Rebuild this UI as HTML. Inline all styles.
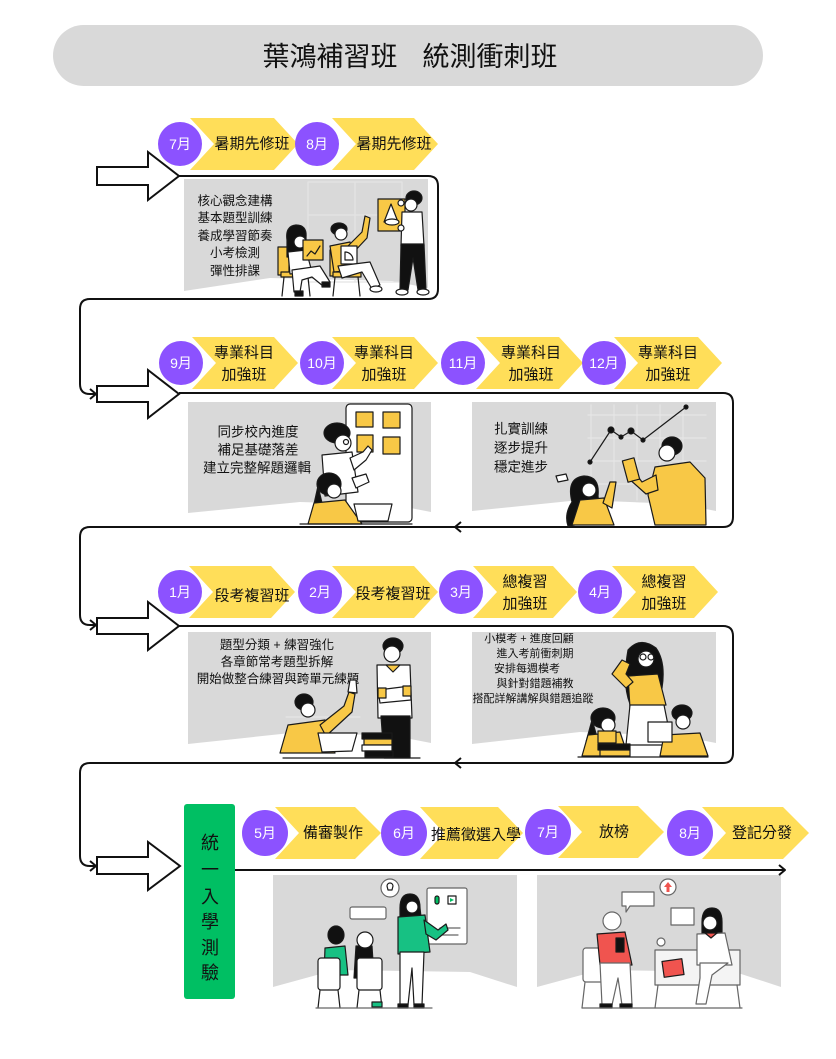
<!DOCTYPE html>
<html><head><meta charset="utf-8">
<style>
html,body{margin:0;padding:0;background:#fff;}
svg{display:block;}
text{font-family:"Liberation Sans","Noto Sans CJK TC",sans-serif;}
</style></head><body>
<svg width="836" height="1059" viewBox="0 0 836 1059" xmlns="http://www.w3.org/2000/svg">
<rect width="836" height="1059" fill="#fff"/>

<!-- header -->
<rect x="53" y="25" width="710" height="61" rx="30.5" fill="#d9d9d9"/>
<text x="330" y="57" font-size="27" text-anchor="middle" dominant-baseline="central" fill="#111">葉鴻補習班</text>
<text x="490" y="57" font-size="27" text-anchor="middle" dominant-baseline="central" fill="#111">統測衝刺班</text>

<!-- gray panels -->
<g fill="#d9d9d9">
<polygon points="184,179 428,179 428,288 392,281 270,278 184,291"/>
<polygon points="188,402 431,402 431,512 395,505 300,502 188,513"/>
<polygon points="472,402 716,402 716,511 680,504 580,500 472,511"/>
<polygon points="188,632 431,632 431,743 395,736 300,732 188,744"/>
<polygon points="472,632 716,632 716,743 680,736 580,732 472,744"/>
<polygon points="273,875 517,875 517,987 470,972 335,970 273,987"/>
<polygon points="537,875 781,875 781,987 735,972 600,970 537,987"/>
</g>

<!-- connectors -->
<g fill="none" stroke="#111" stroke-width="2" stroke-linejoin="round">
<path d="M179,176 H428 Q438,176 438,186 V289 Q438,299 428,299 H90 Q80,299 80,309 V384 Q80,394 90,394 H96"/>
<path d="M90,389 L96,394 L90,399"/>
<path d="M179,393 H723 Q733,393 733,403 V517 Q733,527 723,527 H90 Q80,527 80,537 V615 Q80,625 90,625 H96"/>
<path d="M90,620 L96,625 L90,630"/>
<path d="M461,522 L455,527 L461,532"/>
<path d="M179,626 H723 Q733,626 733,636 V753 Q733,763 723,763 H90 Q80,763 80,773 V856 Q80,866 90,866 H96"/>
<path d="M90,861 L96,866 L90,871"/>
<path d="M461,758 L455,763 L461,768"/>
<path d="M235,870 H785"/>
<path d="M779,865 L785,870 L779,875"/>
</g>

<!-- big block arrows -->
<g fill="#fff" stroke="#111" stroke-width="2" stroke-linejoin="miter">
<polygon points="97,167 148,167 148,152 179,176 148,200 148,185 97,185"/>
<polygon points="97,386 148,386 148,370 179,394 148,418 148,402 97,402"/>
<polygon points="97,618 148,618 148,602 179,626 148,650 148,634 97,634"/>
<polygon points="97,857 148,857 148,842 180,866 148,890 148,874 97,874"/>
</g>

<!-- chevrons -->
<g fill="#ffde59">
<polygon points="190,118 274,118 298,144 274,170 190,170 214,144"/>
<polygon points="332,118 414,118 438,144 414,170 332,170 356,144"/>

<polygon points="192,337 274,337 298,363 274,389 192,389 216,363"/>
<polygon points="332,337 414,337 438,363 414,389 332,389 356,363"/>
<polygon points="476,337 559,337 583,363 559,389 476,389 500,363"/>
<polygon points="614,337 698,337 722,363 698,389 614,389 638,363"/>

<polygon points="189,566 271,566 295,592 271,618 189,618 213,592"/>
<polygon points="332,566 414,566 438,592 414,618 332,618 356,592"/>
<polygon points="473,566 553,566 577,592 553,618 473,618 497,592"/>
<polygon points="612,566 694,566 718,592 694,618 612,618 636,592"/>

<polygon points="275,807 355,807 381,833 355,859 275,859 299,833"/>
<polygon points="420,807 498,807 523,833 498,859 420,859 444,833"/>
<polygon points="558,806 638,806 664,832 638,858 558,858 582,832"/>
<polygon points="702,807 783,807 809,833 783,859 702,859 726,833"/>
</g>

<!-- circles -->
<g fill="#8c52ff">
<circle cx="180" cy="144" r="22"/><circle cx="317" cy="144" r="22"/>
<circle cx="181" cy="363" r="22"/><circle cx="322" cy="363" r="22"/><circle cx="463" cy="363" r="22"/><circle cx="604" cy="363" r="22"/>
<circle cx="180" cy="592" r="22"/><circle cx="320" cy="592" r="22"/><circle cx="461" cy="592" r="22"/><circle cx="600" cy="592" r="22"/>
<circle cx="265" cy="833" r="23"/><circle cx="404" cy="833" r="23"/><circle cx="548" cy="832" r="23"/><circle cx="690" cy="833" r="23"/>
</g>
<g fill="#fff" font-size="14" text-anchor="middle" dominant-baseline="central">
<text x="180" y="144">7月</text><text x="317" y="144">8月</text>
<text x="181" y="363">9月</text><text x="322" y="363">10月</text><text x="463" y="363">11月</text><text x="604" y="363">12月</text>
<text x="180" y="592">1月</text><text x="320" y="592">2月</text><text x="461" y="592">3月</text><text x="600" y="592">4月</text>
<text x="265" y="833">5月</text><text x="404" y="833">6月</text><text x="548" y="832">7月</text><text x="690" y="833">8月</text>
</g>

<!-- chevron labels -->
<g fill="#111" font-size="15" text-anchor="middle" dominant-baseline="central">
<text x="252" y="144">暑期先修班</text><text x="394" y="144">暑期先修班</text>
<text x="244" y="353">專業科目</text><text x="244" y="375">加強班</text>
<text x="384" y="353">專業科目</text><text x="384" y="375">加強班</text>
<text x="531" y="353">專業科目</text><text x="531" y="375">加強班</text>
<text x="668" y="353">專業科目</text><text x="668" y="375">加強班</text>
<text x="252" y="596">段考複習班</text><text x="393" y="594">段考複習班</text>
<text x="525" y="582">總複習</text><text x="525" y="604">加強班</text>
<text x="664" y="582">總複習</text><text x="664" y="604">加強班</text>
<text x="333" y="833">備審製作</text>
<text x="476" y="835">推薦徵選入學</text>
<text x="614" y="832">放榜</text>
<text x="762" y="833">登記分發</text>
</g>

<!-- panel texts -->
<g fill="#111" text-anchor="middle" dominant-baseline="central">
<g font-size="12.5">
<text x="235" y="201">核心觀念建構</text>
<text x="235" y="218">基本題型訓練</text>
<text x="235" y="236">養成學習節奏</text>
<text x="235" y="253">小考檢測</text>
<text x="235" y="271">彈性排課</text>
</g>
<g font-size="13.5">
<text x="258" y="432">同步校內進度</text>
<text x="258" y="450">補足基礎落差</text>
<text x="257" y="468">建立完整解題邏輯</text>
<text x="521" y="429">扎實訓練</text>
<text x="521" y="448">逐步提升</text>
<text x="521" y="467">穩定進步</text>
</g>
<g font-size="12.5">
<text x="277" y="645">題型分類 + 練習強化</text>
<text x="277" y="662">各章節常考題型拆解</text>
<text x="278" y="679">開始做整合練習與跨單元練題</text>
</g>
<g font-size="11">
<text x="529" y="639">小模考 + 進度回顧</text>
<text x="535" y="654">進入考前衝刺期</text>
<text x="527" y="669">安排每週模考</text>
<text x="535" y="684">與針對錯題補教</text>
<text x="533" y="699">搭配詳解講解與錯題追蹤</text>
</g>
</g>

<!-- green box -->
<rect x="184" y="804" width="51" height="195" rx="3" fill="#00bf63"/>
<g fill="#111" font-size="18" text-anchor="middle" dominant-baseline="central">
<text x="210" y="843">統</text><text x="210" y="870">一</text><text x="210" y="897">入</text>
<text x="210" y="922">學</text><text x="210" y="948">測</text><text x="210" y="973">驗</text>
</g>

<!-- ===== Illustrations ===== -->
<g stroke="#1a1a1a" stroke-width="1.2" stroke-linejoin="round" stroke-linecap="round">

<!-- Row 1 -->
<rect x="308" y="182" width="94" height="100" fill="none" stroke="#e4e4e4"/>
<line x1="355" y1="182" x2="355" y2="282" stroke="#e4e4e4"/>
<line x1="308" y1="215" x2="402" y2="215" stroke="#e4e4e4"/>
<!-- woman chair -->
<rect x="278" y="247" width="11" height="28" fill="#f8c846"/>
<rect x="281" y="272" width="30" height="5" fill="#f8c846"/>
<line x1="284" y1="277" x2="282" y2="296"/><line x1="308" y1="277" x2="310" y2="296"/>
<!-- woman -->
<path d="M287,240 q-2,-14 9,-15 q11,0 10,12 l0,20 l-19,0 z" fill="#111"/>
<circle cx="300" cy="242" r="6" fill="#fff"/>
<path d="M288,252 L306,250 L312,272 L290,274 Z" fill="#fff"/>
<path d="M292,270 L320,266 L330,282 L323,286 L312,277 L302,280 L300,292 L294,292 Z" fill="#fff"/>
<rect x="322" y="282" width="8" height="5" fill="#111"/><rect x="295" y="291" width="8" height="5" fill="#111"/>
<rect x="303" y="240" width="20" height="20" fill="#f8c846"/>
<polyline points="307,256 311,251 315,254 320,246" fill="none"/>
<!-- man seated chair -->
<rect x="330" y="250" width="11" height="26" fill="#f8c846"/>
<rect x="333" y="272" width="28" height="5" fill="#f8c846"/>
<line x1="335" y1="277" x2="333" y2="296"/><line x1="358" y1="277" x2="360" y2="296"/>
<!-- man seated -->
<ellipse cx="339" cy="229" rx="8" ry="6" fill="#111"/>
<circle cx="341" cy="234" r="6" fill="#fff"/>
<path d="M330,246 L350,242 L356,270 L334,272 Z" fill="#f8c846"/>
<path d="M348,246 L362,232 L365,216 L370,218 L367,238 L352,254 Z" fill="#f8c846"/>
<rect x="341" y="246" width="16" height="18" fill="#fff"/>
<path d="M345,260 L353,260 A8,8 0 0 0 345,252 Z" fill="none"/>
<path d="M338,266 L370,262 L380,285 L372,289 L362,272 L342,278 Z" fill="#fff"/>
<ellipse cx="376" cy="289" rx="6" ry="3" fill="#fff"/>
<!-- standing man -->
<rect x="378" y="199" width="27" height="32" fill="#f8c846"/>
<path d="M391,204 L384,222 L398,222 Z" fill="#fff"/>
<ellipse cx="392" cy="222" rx="7" ry="3" fill="#fff"/>
<ellipse cx="414" cy="198" rx="8" ry="7" fill="#111"/>
<circle cx="411" cy="205" r="6" fill="#fff"/>
<path d="M402,212 L422,212 L424,246 L401,246 Z" fill="#fff"/>
<path d="M401,244 L424,244 L426,290 L418,290 L413,258 L408,290 L400,290 Z" fill="#111"/>
<ellipse cx="402" cy="292" rx="6" ry="3" fill="#fff"/><ellipse cx="423" cy="292" rx="6" ry="3" fill="#fff"/>
<circle cx="401" cy="203" r="3" fill="#fff"/><circle cx="401" cy="228" r="3" fill="#fff"/>

<!-- Row 2 left -->
<rect x="346" y="404" width="66" height="118" rx="4" fill="#fff"/>
<rect x="356" y="412" width="17" height="15" fill="#f8c846"/>
<rect x="383" y="412" width="17" height="16" fill="#f8c846"/>
<rect x="357" y="435" width="16" height="17" fill="#f8c846"/>
<rect x="383" y="437" width="17" height="17" fill="#f8c846"/>
<ellipse cx="337" cy="433" rx="13" ry="10" fill="#111"/>
<circle cx="343" cy="443" r="8" fill="#fff"/>
<circle cx="346" cy="442" r="2.5" fill="none"/>
<path d="M322,455 L352,452 L358,492 L325,496 Z" fill="#fff"/>
<path d="M350,458 L363,452 L368,446 L372,450 L366,460 L354,470 Z" fill="#fff"/>
<path d="M352,478 L366,474 L369,482 L356,488 Z" fill="#fff"/>
<ellipse cx="329" cy="484" rx="12" ry="11" fill="#111"/>
<path d="M318,486 L310,522 L326,520 Z" fill="#111"/>
<circle cx="334" cy="491" r="7" fill="#fff"/>
<path d="M314,503 L345,500 L362,524 L308,524 Z" fill="#f8c846"/>
<path d="M354,504 L392,504 L388,521 L358,521 Z" fill="#fff"/>
<line x1="300" y1="524" x2="412" y2="524"/>

<!-- Row 2 right -->
<g stroke="#e6e6e6" fill="none">
<line x1="591" y1="405" x2="591" y2="500"/><line x1="614" y1="405" x2="614" y2="500"/>
<line x1="637" y1="405" x2="637" y2="500"/><line x1="660" y1="405" x2="660" y2="500"/>
<line x1="683" y1="405" x2="683" y2="500"/>
<line x1="588" y1="415" x2="706" y2="415"/><line x1="588" y1="438" x2="706" y2="438"/>
<line x1="588" y1="461" x2="706" y2="461"/><line x1="588" y1="484" x2="706" y2="484"/>
</g>
<polyline points="590,462 611,430 621,437 631,431 643,440 686,407" fill="none"/>
<circle cx="611" cy="430" r="3" fill="#111"/><circle cx="631" cy="431" r="3" fill="#111"/>
<circle cx="590" cy="462" r="2" fill="#111"/><circle cx="621" cy="437" r="2" fill="#111"/>
<circle cx="643" cy="440" r="2" fill="#111"/><circle cx="686" cy="407" r="2" fill="#111"/>
<path d="M572,502 q-6,-24 12,-26 q16,0 14,20 q2,14 -4,26 l-26,4 q-4,-12 4,-24 z" fill="#111"/>
<circle cx="589" cy="490" r="7" fill="#fff"/>
<path d="M580,500 L604,498 L614,525 L572,525 Z" fill="#f8c846"/>
<path d="M603,503 L610,482 L616,482 L612,508 Z" fill="#f8c846"/>
<path d="M556,476 L566,474 L568,480 L558,482 Z" fill="#fff"/>
<ellipse cx="672" cy="446" rx="10" ry="9" fill="#111"/>
<circle cx="667" cy="453" r="8" fill="#fff"/>
<path d="M655,467 L690,462 L705,478 L706,525 L655,525 L648,495 Z" fill="#f8c846"/>
<path d="M656,475 L642,482 L633,470 L628,478 L646,494 L658,490 Z" fill="#f8c846"/>
<rect x="625" y="459" width="12" height="22" fill="#f8c846" transform="rotate(-15 631 470)"/>

<!-- Row 3 left -->
<line x1="286" y1="717" x2="360" y2="717" stroke="#e6e6e6"/>
<ellipse cx="393" cy="646" rx="10" ry="8" fill="#111"/>
<circle cx="392" cy="654" r="8" fill="#fff"/>
<path d="M377,665 L410,665 L412,718 L378,718 Z" fill="#fff"/>
<path d="M386,665 L393,672 L400,665 Z" fill="#f8c846"/>
<path d="M378,690 L410,686 L411,700 L380,703 Z" fill="#fff"/>
<rect x="378" y="688" width="8" height="10" fill="#f8c846"/>
<rect x="403" y="686" width="8" height="10" fill="#f8c846"/>
<path d="M381,716 L410,716 L410,758 L384,758 Z" fill="#111"/>
<ellipse cx="304" cy="702" rx="9" ry="8" fill="#111"/>
<circle cx="308" cy="710" r="7" fill="#fff"/>
<path d="M288,725 L325,720 L335,753 L280,753 Z" fill="#f8c846"/>
<path d="M320,725 L344,706 L349,692 L355,694 L352,712 L326,736 Z" fill="#f8c846"/>
<path d="M348,692 L350,680 L356,680 L357,693 Z" fill="#fff"/>
<path d="M318,733 L357,733 L352,751 L322,752 Z" fill="#fff"/>
<rect x="362" y="733" width="30" height="6" fill="#111"/>
<rect x="364" y="739" width="28" height="6" fill="#f8c846"/>
<rect x="362" y="745" width="30" height="6" fill="#fff"/>
<rect x="365" y="751" width="28" height="6" fill="#111"/>
<line x1="283" y1="758" x2="420" y2="758"/>

<!-- Row 3 right -->
<path d="M628,650 q12,-14 28,-2 q10,14 6,40 q-4,14 -10,20 l-22,-4 q-8,-20 -2,-54 z" fill="#111"/>
<circle cx="646" cy="659" r="8" fill="#fff"/>
<circle cx="643" cy="657" r="3" fill="none"/><circle cx="651" cy="657" r="3" fill="none"/>
<path d="M628,676 L658,674 L666,705 L630,708 Z" fill="#f8c846"/>
<path d="M626,688 L612,674 L622,660 L630,664 L626,674 L633,682 Z" fill="#f8c846"/>
<path d="M630,705 L664,705 L672,745 L626,745 Z" fill="#fff"/>
<ellipse cx="603" cy="718" rx="12" ry="10" fill="#111"/>
<path d="M592,720 L586,742 L598,740 Z" fill="#111"/>
<circle cx="608" cy="725" r="7" fill="#fff"/>
<path d="M588,735 L620,732 L628,756 L582,756 Z" fill="#f8c846"/>
<rect x="598" y="731" width="18" height="12" fill="#f8c846"/>
<rect x="598" y="744" width="32" height="6" fill="#111"/>
<rect x="600" y="750" width="30" height="6" fill="#f8c846"/>
<ellipse cx="682" cy="713" rx="10" ry="8" fill="#111"/>
<circle cx="683" cy="722" r="7" fill="#fff"/>
<path d="M664,735 L700,733 L708,756 L660,756 Z" fill="#f8c846"/>
<path d="M648,722 L672,722 L672,742 L648,742 Z" fill="#fff"/>
<line x1="578" y1="757" x2="708" y2="757"/>

<!-- Row 4 left -->
<circle cx="390" cy="888" r="9" fill="#fff" stroke="#666"/>
<path d="M387,886 a3,3 0 1 1 6,0 l-1,4 h-4 z" fill="#fff"/>
<rect x="350" y="907" width="36" height="12" rx="2" fill="#fff" stroke="#666"/>
<rect x="427" y="888" width="40" height="56" rx="2" fill="#fff" stroke="#666"/>
<rect x="435" y="896" width="4" height="8" rx="2" fill="#00bf63"/>
<rect x="448" y="896" width="8" height="8" fill="#fff"/>
<path d="M450,898 L454,900 L450,902 Z" fill="#00bf63" stroke="none"/>
<line x1="440" y1="928" x2="460" y2="928" stroke="#666"/>
<line x1="440" y1="935" x2="458" y2="935" stroke="#666"/>
<path d="M400,908 q0,-14 10,-14 q10,0 10,14 l2,18 l-22,0 z" fill="#111"/>
<circle cx="412" cy="907" r="6" fill="#fff"/>
<path d="M398,917 L425,915 L430,952 L398,954 Z" fill="#17c183"/>
<path d="M424,920 L438,930 L446,924 L448,930 L436,940 L426,934 Z" fill="#17c183"/>
<path d="M400,952 L424,952 L422,1005 L414,1005 L412,968 L408,1005 L400,1005 Z" fill="#fff"/>
<rect x="398" y="1004" width="10" height="4" fill="#111"/><rect x="414" y="1004" width="10" height="4" fill="#111"/>
<ellipse cx="336" cy="935" rx="8" ry="9" fill="#111"/>
<path d="M325,948 L345,946 L348,975 L324,975 Z" fill="#17c183"/>
<rect x="318" y="958" width="22" height="32" rx="3" fill="#fff"/>
<line x1="320" y1="990" x2="318" y2="1008"/><line x1="338" y1="990" x2="340" y2="1008"/>
<path d="M356,946 L372,946 L374,978 L354,978 Z" fill="#111"/>
<circle cx="365" cy="940" r="8" fill="#fff"/>
<rect x="357" y="958" width="25" height="32" rx="3" fill="#fff"/>
<line x1="359" y1="990" x2="357" y2="1008"/><line x1="380" y1="990" x2="382" y2="1008"/>
<rect x="372" y="1002" width="10" height="5" fill="#17c183"/>
<line x1="316" y1="1008" x2="432" y2="1008" stroke="#666"/>

<!-- Row 4 right -->
<circle cx="668" cy="887" r="8" fill="#fff" stroke="#666"/>
<path d="M668,882 L664,887 L666.5,887 L666.5,892 L669.5,892 L669.5,887 L672,887 Z" fill="#f0544f" stroke="none"/>
<path d="M622,892 L654,892 L654,906 L630,906 L626,912 L626,906 L622,906 Z" fill="#fff" stroke="#666"/>
<path d="M671,908 L694,908 L694,925 L671,925 Z" fill="#fff" stroke="#666"/>
<circle cx="612" cy="921" r="9" fill="#fff" stroke="#666"/>
<rect x="583" y="948" width="28" height="34" rx="3" fill="#fff" stroke="#666"/>
<line x1="585" y1="982" x2="582" y2="1008" stroke="#666"/><line x1="609" y1="982" x2="612" y2="1008" stroke="#666"/>
<path d="M597,934 L625,932 L632,965 L600,965 Z" fill="#f0544f"/>
<rect x="616" y="938" width="8" height="14" fill="#111"/>
<path d="M600,963 L630,963 L632,1005 L622,1005 L618,978 L612,1005 L602,1005 Z" fill="#fff" stroke="#666"/>
<rect x="600" y="1004" width="12" height="4" fill="#111"/><rect x="620" y="1004" width="12" height="4" fill="#111"/>
<circle cx="661" cy="942" r="4" fill="#fff" stroke="#666"/>
<path d="M655,950 L740,950 L740,985 L655,985 Z" fill="#f4f4f4" stroke="#666"/>
<line x1="658" y1="985" x2="655" y2="1008" stroke="#666"/><line x1="737" y1="985" x2="740" y2="1008" stroke="#666"/>
<path d="M702,922 q0,-14 10,-14 q10,0 10,14 l0,12 l-20,0 z" fill="#111"/>
<circle cx="710" cy="923" r="7" fill="#fff"/>
<path d="M697,934 L725,933 L732,965 L697,965 Z" fill="#fff" stroke="#666"/>
<path d="M705,933 L711,938 L717,933 Z" fill="#f0544f"/>
<path d="M700,963 L728,963 L712,975 L706,1004 L696,1004 L700,978 Z" fill="#fff" stroke="#666"/>
<rect x="663" y="960" width="20" height="16" fill="#f0544f" transform="rotate(-8 673 968)"/>
<line x1="582" y1="1008" x2="742" y2="1008" stroke="#666"/>
</g>

</svg>
</body></html>
